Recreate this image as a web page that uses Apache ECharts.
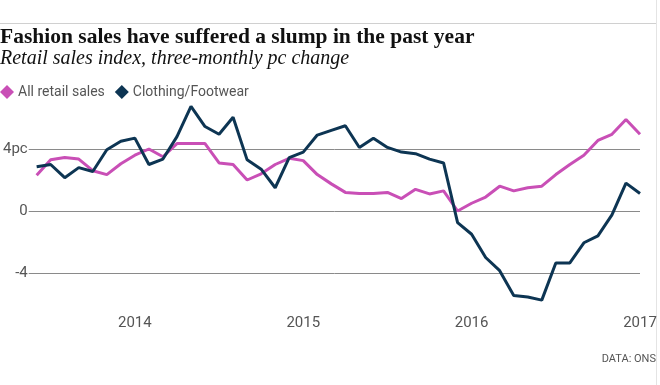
<!DOCTYPE html>
<html>
<head>
<meta charset="utf-8">
<script src="https://cdn.jsdelivr.net/npm/echarts@6/dist/echarts.min.js"></script>
<style>
html,body{margin:0;padding:0;background:#fff;}
#chart{width:660px;height:385px;}
</style>
</head>
<body>
<div id="chart"></div>
<script>
// Months Jun 2013 .. Jan 2017
var months = ['2013-06','2013-07','2013-08','2013-09','2013-10','2013-11','2013-12',
  '2014-01','2014-02','2014-03','2014-04','2014-05','2014-06','2014-07','2014-08','2014-09','2014-10','2014-11','2014-12',
  '2015-01','2015-02','2015-03','2015-04','2015-05','2015-06','2015-07','2015-08','2015-09','2015-10','2015-11','2015-12',
  '2016-01','2016-02','2016-03','2016-04','2016-05','2016-06','2016-07','2016-08','2016-09','2016-10','2016-11','2016-12',
  '2017-01'];
var allRetail = [2.3,3.3,3.45,3.35,2.6,2.35,3.05,3.6,4.0,3.5,4.35,4.35,4.35,3.1,3.0,
  2.0,2.4,3.0,3.4,3.25,2.35,1.75,1.2,1.13,1.13,1.2,0.8,1.4,1.1,1.3,0.0,
  0.5,0.9,1.6,1.3,1.5,1.6,2.35,3.0,3.6,4.55,4.95,5.9,4.95];
var clothing = [2.85,3.0,2.15,2.8,2.55,3.95,4.5,4.7,3.0,3.35,4.8,6.75,5.45,4.95,6.05,
  3.3,2.7,1.5,3.45,3.8,4.9,5.2,5.5,4.1,4.7,4.1,3.8,3.7,3.35,3.1,-0.75,
  -1.5,-3.0,-3.85,-5.45,-5.55,-5.75,-3.35,-3.35,-2.05,-1.6,-0.25,1.8,1.13];
var yearTicks = ['2014','2015','2016','2017'];
var seriesNames = ['All retail sales','Clothing/Footwear'];

function pairs(vals){ return vals.map(function(v,i){ return [i, v]; }); }
var tickIdx = yearTicks.map(function(y){ return months.indexOf(y + '-01'); });

var sans = 'Roboto, "Liberation Sans", sans-serif';
var chart = echarts.init(document.getElementById('chart'), null, {renderer:'canvas'});
chart.setOption({
  animation:false,
  backgroundColor:'#fff',
  title:{
    text:'Fashion sales have suffered a slump in the past year',
    subtext:'Retail sales index, three-monthly pc change',
    left:0, top:26, itemGap:1, padding:0,
    textStyle:{fontFamily:'Liberation Serif', fontWeight:'bold', fontSize:21.5, color:'#111'},
    subtextStyle:{fontFamily:'Liberation Serif', fontStyle:'italic', fontSize:20, color:'#111'}
  },
  legend:{
    left:0, top:85, padding:0, icon:'diamond', itemWidth:14, itemHeight:14, itemGap:10,
    textStyle:{fontFamily:sans, fontSize:14, color:'#555', padding:[0,0,0,-1]},
    data:seriesNames
  },
  grid:{left:24, right:20, top:149, bottom:112, containLabel:false},
  xAxis:{
    type:'value', min:-0.566, max:months.length-1,
    axisLine:{show:false}, axisTick:{show:false}, splitLine:{show:false},
    axisLabel:{
      customValues:tickIdx, margin:43, color:'#555', fontSize:15, fontFamily:sans,
      formatter:function(v){ return months[Math.round(v)].slice(0,4); }
    }
  },
  yAxis:{
    type:'value', min:-4, max:4, interval:4,
    axisLine:{show:false}, axisTick:{show:false},
    splitLine:{lineStyle:{color:'#8a8a8a', width:1}},
    axisLabel:{margin:1, color:'#555', fontSize:15, fontFamily:sans,
      formatter:function(v){ return v===4 ? '4pc' : String(v); }}
  },
  series:[
    {name:seriesNames[0], type:'line', data:pairs(allRetail), showSymbol:false, clip:false,
     color:'#c94fb6', lineStyle:{width:3, color:'#c94fb6'}},
    {name:seriesNames[1], type:'line', data:pairs(clothing), showSymbol:false, clip:false,
     color:'#0d3553', lineStyle:{width:3, color:'#0d3553'}}
  ],
  graphic:[
    {type:'line', shape:{x1:0,y1:23.5,x2:656,y2:23.5}, style:{stroke:'#d0d0d0', lineWidth:1}, silent:true},
    {type:'line', shape:{x1:656.5,y1:0,x2:656.5,y2:385}, style:{stroke:'#e4e4e4', lineWidth:1}, silent:true},
    {type:'text', right:4, top:354, style:{text:'DATA: ONS', fill:'#555', font:'11px Roboto, "Liberation Sans", sans-serif'}}
  ]
});
</script>
</body>
</html>
